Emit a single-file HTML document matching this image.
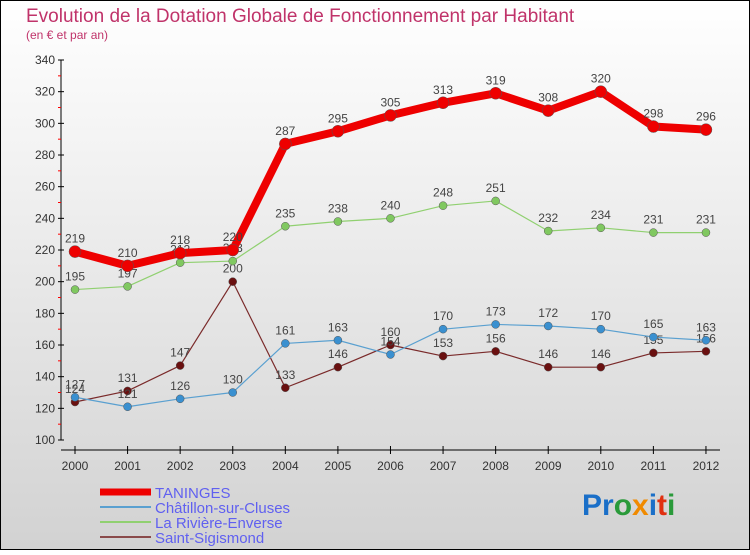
<!DOCTYPE html>
<html><head><meta charset="utf-8"><style>
html,body{margin:0;padding:0}
body{width:750px;height:550px;overflow:hidden;font-family:"Liberation Sans",sans-serif}
</style></head><body>
<svg id="c" width="750" height="550" xmlns="http://www.w3.org/2000/svg">
<defs><linearGradient id="bg" x1="0" y1="0" x2="0" y2="1"><stop offset="0" stop-color="#ffffff"/><stop offset="1" stop-color="#d2d2d2"/></linearGradient></defs>
<rect x="0.5" y="0.5" width="749" height="549" fill="url(#bg)" stroke="#000"/>
<text x="26" y="22" font-size="19" fill="#c0336a">Evolution de la Dotation Globale de Fonctionnement par Habitant</text>
<text x="26" y="39" font-size="12" fill="#c0336a">(en € et par an)</text>
<g id="axes"></g><g id="series"></g><g id="legend"></g>
<text x="582" y="515" font-size="30" font-weight="bold"><tspan fill="#1a6fc8">Pr</tspan><tspan fill="#2a9a3a">o</tspan><tspan fill="#f08a00">x</tspan><tspan fill="#1a6fc8">i</tspan><tspan fill="#e03010">t</tspan><tspan fill="#2a9a3a">i</tspan></text>
</svg>
<script>
const years=[2000,2001,2002,2003,2004,2005,2006,2007,2008,2009,2010,2011,2012];
const taninges=[219,210,218,220,287,295,305,313,319,308,320,298,296];
const chatillon=[127,121,126,130,161,163,154,170,173,172,170,165,163];
const riviere=[195,197,212,213,235,238,240,248,251,232,234,231,231];
const saint=[124,131,147,200,133,146,160,153,156,146,146,155,156];
const yTicks=[100,120,140,160,180,200,220,260,240,280,300,320,340];
const ns="http://www.w3.org/2000/svg";
const X=i=>75+i*52.58, Y=v=>440-(v-100)*1.5833;
function mk(t,a,p){const e=document.createElementNS(ns,t);for(const k in a)e.setAttribute(k,a[k]);p.appendChild(e);return e;}
const ax=document.getElementById('axes');
let l=mk('line',{x1:61,y1:60,x2:61,y2:440,stroke:'#000'},ax);


l=mk('line',{x1:61,y1:450,x2:720,y2:450,stroke:'#000'},ax);


yTicks.forEach(v=>{mk('line',{x1:58,y1:Y(v),x2:64,y2:Y(v),stroke:'#000'},ax);
 if(v<340)mk('line',{x1:58,y1:Y(v+10),x2:61,y2:Y(v+10),stroke:'#f00'},ax);
 const t=mk('text',{x:55,y:Y(v)+4,'font-size':12,'text-anchor':'end',fill:'#333'},ax);t.textContent=v;
 
 });
years.forEach((yr,i)=>{mk('line',{x1:X(i),y1:446,x2:X(i),y2:454,stroke:'#000'},ax);
 const t=mk('text',{x:X(i),y:470,'font-size':12,'text-anchor':'middle',fill:'#333'},ax);t.textContent=yr;
 
 });
const sg=document.getElementById('series');
function draw(d,col,dot,w,r,name){const g=mk('g',{},sg);
 
 
 mk('polyline',{points:d.map((v,i)=>X(i)+','+Y(v)).join(' '),fill:'none',stroke:col,'stroke-width':w,'stroke-linejoin':'round'},g);
 d.forEach((v,i)=>{const c=mk('circle',{cx:X(i),cy:Y(v),r:r,fill:dot,stroke:'#555','stroke-width':0.5},g);
  
  
  const t=mk('text',{x:X(i),y:Y(v)-9,'font-size':12,'text-anchor':'middle',fill:'#444'},g);t.textContent=v;
  
  });}
draw(saint,'#7a2a2a','#6a1010',1.2,4,'series-saint-sigismond');
draw(chatillon,'#5aa0d0','#3a90d0',1.2,4,'series-chatillon');
draw(riviere,'#90d070','#80c860',1.2,4,'series-riviere-enverse');
draw(taninges,'#ee0000','#ee0000',8,6,'series-taninges');
const lg=document.getElementById('legend');
const names=['TANINGES','Châtillon-sur-Cluses','La Rivière-Enverse','Saint-Sigismond'];
const cols=['#ee0000','#5aa0d0','#90d070','#8a4a4a'];const ws=[7,2,2,2];
names.forEach((n,i)=>{const y=492+i*15;const g=mk('g',{},lg);
 
 
 mk('line',{x1:100,y1:y,x2:151,y2:y,stroke:cols[i],'stroke-width':ws[i]},g);
 const t=mk('text',{x:155,y:y+6,'font-size':15,fill:'#6060f0'},g);t.textContent=n;});
</script>
</body></html>
